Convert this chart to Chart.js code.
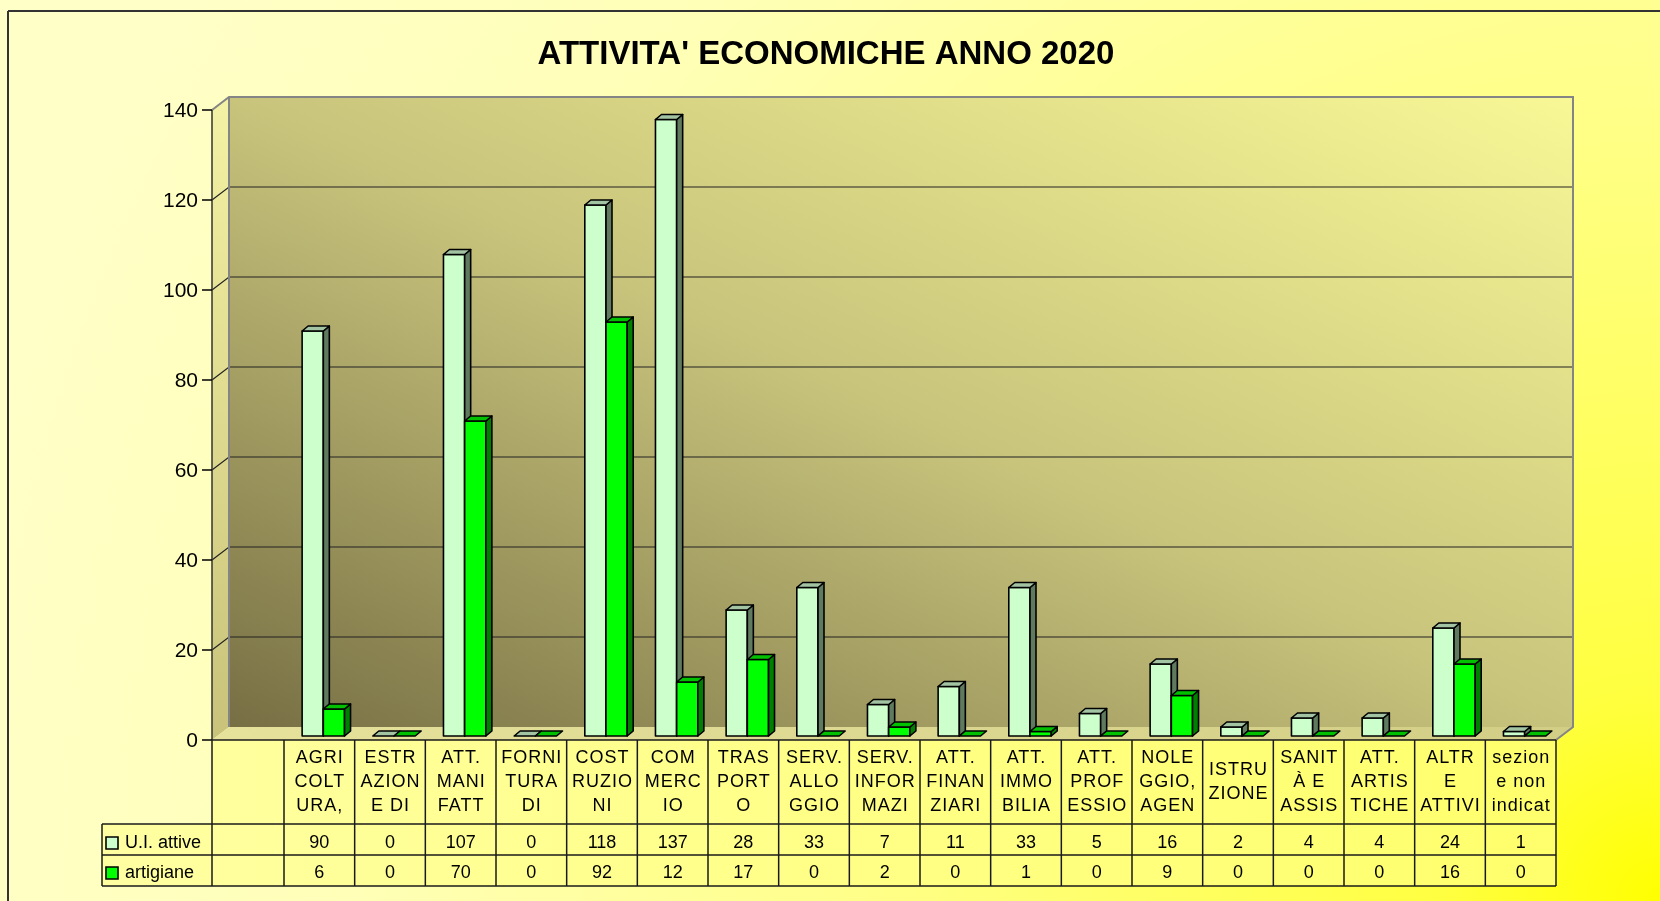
<!DOCTYPE html>
<html>
<head>
<meta charset="utf-8">
<title>Attività economiche anno 2020</title>
<script src="https://cdn.jsdelivr.net/npm/chart.js@4.4.1/dist/chart.umd.min.js"></script>
<style>
  html, body { margin: 0; padding: 0; background: #ffffc8; }
  canvas { display: block; }
</style>
</head>
<body>
<canvas id="econChart" width="1660" height="901"></canvas>
<script>
const chartTitle = "ATTIVITA' ECONOMICHE ANNO 2020";
// category names as Excel cuts them in the data table
const categoryLines = [
  ['AGRI', 'COLT', 'URA,'],
  ['ESTR', 'AZION', 'E DI'],
  ['ATT.', 'MANI', 'FATT'],
  ['FORNI', 'TURA', 'DI'],
  ['COST', 'RUZIO', 'NI'],
  ['COM', 'MERC', 'IO'],
  ['TRAS', 'PORT', 'O'],
  ['SERV.', 'ALLO', 'GGIO'],
  ['SERV.', 'INFOR', 'MAZI'],
  ['ATT.', 'FINAN', 'ZIARI'],
  ['ATT.', 'IMMO', 'BILIA'],
  ['ATT.', 'PROF', 'ESSIO'],
  ['NOLE', 'GGIO,', 'AGEN'],
  ['ISTRU', 'ZIONE'],
  ['SANIT', 'À E', 'ASSIS'],
  ['ATT.', 'ARTIS', 'TICHE'],
  ['ALTR', 'E', 'ATTIVI'],
  ['sezion', 'e non', 'indicat']
];
const uiAttive = [90, 0, 107, 0, 118, 137, 28, 33, 7, 11, 33, 5, 16, 2, 4, 4, 24, 1];
const artigiane = [6, 0, 70, 0, 92, 12, 17, 0, 2, 0, 1, 0, 9, 0, 0, 0, 16, 0];
const seriesNames = ['U.I. attive', 'artigiane'];
const yTicks = [0, 20, 40, 60, 80, 100, 120, 140];

const FONT = '"Liberation Sans", Arial, sans-serif';
const barStyles = [
  { front: '#ccffcc', side: '#5f7a5f', top: '#a3c4a3' },
  { front: '#00ff00', side: '#008000', top: '#00c000' }
];
const wall = { dx: 17, dy: -13 };
const bar3d = { sx: 4, sy: -4, dx: 6, dy: -5 };
const axisX = 212, legendLeft = 102;
const headerBottom = 824, row2Top = 855, tableBottom = 886;

function poly(ctx, pts, fill, stroke, lw) {
  ctx.beginPath();
  ctx.moveTo(pts[0][0], pts[0][1]);
  for (let i = 1; i < pts.length; i++) ctx.lineTo(pts[i][0], pts[i][1]);
  ctx.closePath();
  if (fill) { ctx.fillStyle = fill; ctx.fill(); }
  if (stroke) { ctx.strokeStyle = stroke; ctx.lineWidth = lw || 1; ctx.stroke(); }
}

function line(ctx, x1, y1, x2, y2, color, lw) {
  ctx.beginPath();
  ctx.moveTo(x1, y1);
  ctx.lineTo(x2, y2);
  ctx.strokeStyle = color;
  ctx.lineWidth = lw;
  ctx.stroke();
}

const scenePlugin = {
  id: 'scene',
  beforeDraw(chart) {
    const { ctx, chartArea: a, width, height } = chart;
    const yScale = chart.scales.y;
    ctx.save();

    // page background
    const bg = ctx.createRadialGradient(width, height, 0, width, height, 1750);
    bg.addColorStop(0, '#ffff00');
    bg.addColorStop(0.12, '#ffff40');
    bg.addColorStop(0.45, '#ffff88');
    bg.addColorStop(0.75, '#ffffb8');
    bg.addColorStop(1, '#ffffc8');
    ctx.fillStyle = bg;
    ctx.fillRect(0, 0, width, height);
    line(ctx, 8, 11, width, 11, '#333', 2);
    line(ctx, 8, 11, 8, height, '#333', 2);

    // data table cells
    const tg = ctx.createLinearGradient(legendLeft, 0, a.right, 0);
    tg.addColorStop(0, '#ffffa2');
    tg.addColorStop(1, '#ffff6c');
    ctx.fillStyle = tg;
    ctx.fillRect(axisX, a.bottom, a.right - axisX, tableBottom - a.bottom);
    ctx.fillRect(legendLeft, headerBottom, axisX - legendLeft, tableBottom - headerBottom);

    // back wall
    const wl = axisX + wall.dx, wr = a.right + wall.dx;
    const wt = a.top + wall.dy, wb = a.bottom + wall.dy;
    ctx.save();
    ctx.translate(wl, wt);
    ctx.scale(wr - wl, wb - wt);
    const wg = ctx.createLinearGradient(0, 1, 1, 0);
    wg.addColorStop(0, '#776f44');
    wg.addColorStop(0.5, '#c8c47c');
    wg.addColorStop(1, '#f8f896');
    ctx.fillStyle = wg;
    ctx.fillRect(0, 0, 1, 1);
    ctx.restore();

    // side wall
    const sg = ctx.createLinearGradient(0, wt, 0, a.bottom);
    sg.addColorStop(0, '#f4f2a4');
    sg.addColorStop(1, '#c8c27a');
    poly(ctx, [[axisX, a.top], [wl, wt], [wl, wb], [axisX, a.bottom]], sg);

    // floor
    const fg = ctx.createLinearGradient(axisX, 0, wr, 0);
    fg.addColorStop(0, '#e6e29c');
    fg.addColorStop(1, '#d2ce86');
    poly(ctx, [[axisX, a.bottom], [a.right, a.bottom], [wr, wb], [wl, wb]], fg);

    // gridlines on side and back walls
    yTicks.forEach(v => {
      if (v === yTicks[0] || v === yTicks[yTicks.length - 1]) return;
      const py = yScale.getPixelForValue(v);
      ctx.beginPath();
      ctx.moveTo(axisX, py);
      ctx.lineTo(wl, py + wall.dy);
      ctx.lineTo(wr, py + wall.dy);
      ctx.strokeStyle = '#222';
      ctx.lineWidth = 1.2;
      ctx.stroke();
    });

    // wall edges
    ctx.beginPath();
    ctx.moveTo(axisX, a.top);
    ctx.lineTo(wl, wt);
    ctx.lineTo(wr, wt);
    ctx.lineTo(wr, wb);
    ctx.lineTo(a.right, a.bottom);
    ctx.moveTo(wl, wt);
    ctx.lineTo(wl, wb);
    ctx.strokeStyle = '#858585';
    ctx.lineWidth = 2;
    ctx.stroke();

    // value axis
    line(ctx, axisX, a.top, axisX, a.bottom, '#333', 1.5);
    ctx.font = '21px ' + FONT;
    ctx.fillStyle = '#000';
    ctx.textAlign = 'right';
    ctx.textBaseline = 'middle';
    yTicks.forEach(v => {
      const py = yScale.getPixelForValue(v);
      line(ctx, axisX - 10, py, axisX, py, '#000', 1.5);
      ctx.fillText(String(v), axisX - 14, py + 1);
    });
    ctx.restore();
  },

  beforeDatasetsDraw(chart) {
    const { ctx } = chart;
    const metas = [chart.getDatasetMeta(0), chart.getDatasetMeta(1)];
    ctx.save();
    ctx.lineJoin = 'round';
    for (let i = 0; i < categoryLines.length; i++) {
      metas.forEach((meta, d) => {
        const el = meta.data[i];
        const st = barStyles[d];
        const x0 = el.x - el.width / 2 + bar3d.sx;
        const x1 = el.x + el.width / 2 + bar3d.sx;
        const yt = el.y + bar3d.sy;
        const yb = el.base + bar3d.sy;
        const top = [[x0, yt], [x0 + bar3d.dx, yt + bar3d.dy], [x1 + bar3d.dx, yt + bar3d.dy], [x1, yt]];
        if (yb - yt > 0.5) {
          poly(ctx, [[x0, yt], [x1, yt], [x1, yb], [x0, yb]], st.front, '#000', 1.6);
          poly(ctx, [[x1, yt], [x1 + bar3d.dx, yt + bar3d.dy], [x1 + bar3d.dx, yb + bar3d.dy], [x1, yb]], st.side, '#000', 1.6);
        }
        poly(ctx, top, st.top, '#000', 1.6);
      });
    }
    ctx.restore();
    return false;
  },

  afterDraw(chart) {
    const { ctx, chartArea: a } = chart;
    const xScale = chart.scales.x;
    const n = categoryLines.length;
    const colW = (a.right - a.left) / n;
    ctx.save();

    // table grid
    const gc = '#1a1a1a';
    line(ctx, axisX, a.bottom, a.right, a.bottom, gc, 1.5);
    [headerBottom, row2Top, tableBottom].forEach(yy => line(ctx, legendLeft, yy, a.right, yy, gc, 1.5));
    line(ctx, legendLeft, headerBottom, legendLeft, tableBottom, gc, 1.5);
    line(ctx, axisX, a.bottom, axisX, tableBottom, gc, 1.5);
    for (let i = 0; i <= n; i++) {
      const xx = a.left + i * colW;
      line(ctx, xx, a.bottom, xx, tableBottom, gc, 1.5);
    }

    // header labels
    ctx.fillStyle = '#000';
    ctx.textAlign = 'center';
    ctx.textBaseline = 'middle';
    ctx.font = '18px ' + FONT;
    ctx.letterSpacing = '1px';
    const headMid = (a.bottom + headerBottom) / 2;
    categoryLines.forEach((lines, i) => {
      const cx = xScale.getPixelForValue(i) + 0.5;
      lines.forEach((t, k) => {
        ctx.fillText(t, cx, headMid + (k - (lines.length - 1) / 2) * 24);
      });
    });

    // values rows
    ctx.letterSpacing = '0px';
    const rows = [uiAttive, artigiane];
    const rowMid = [(headerBottom + row2Top) / 2 + 3.5, (row2Top + tableBottom) / 2 + 2.5];
    rows.forEach((vals, r) => {
      vals.forEach((v, i) => ctx.fillText(String(v), xScale.getPixelForValue(i), rowMid[r]));
      // legend key
      poly(ctx, [[106, rowMid[r] - 6], [118, rowMid[r] - 6], [118, rowMid[r] + 6], [106, rowMid[r] + 6]],
        barStyles[r].front, '#000', 1.6);
      ctx.fillStyle = '#000';
      ctx.textAlign = 'left';
      ctx.fillText(seriesNames[r], 125, rowMid[r]);
      ctx.textAlign = 'center';
    });

    // title
    ctx.font = 'bold 33px ' + FONT;
    ctx.fillText(chartTitle, 826, 55);
    ctx.restore();
  }
};

const ctx = document.getElementById('econChart').getContext('2d');
const econChart = new Chart(ctx, {
  type: 'bar',
  data: {
    labels: categoryLines,
    datasets: [
      { label: seriesNames[0], data: uiAttive, backgroundColor: barStyles[0].front },
      { label: seriesNames[1], data: artigiane, backgroundColor: barStyles[1].front }
    ]
  },
  options: {
    responsive: false,
    animation: false,
    devicePixelRatio: 1,
    layout: { padding: { left: 284, right: 104, top: 110, bottom: 161 } },
    datasets: { bar: { categoryPercentage: 0.6, barPercentage: 1.0 } },
    scales: {
      x: { display: false, offset: true },
      y: { display: false, min: 0, max: 140 }
    },
    plugins: {
      legend: { display: false },
      title: { display: false },
      tooltip: { enabled: false }
    }
  },
  plugins: [scenePlugin]
});
</script>
</body>
</html>
